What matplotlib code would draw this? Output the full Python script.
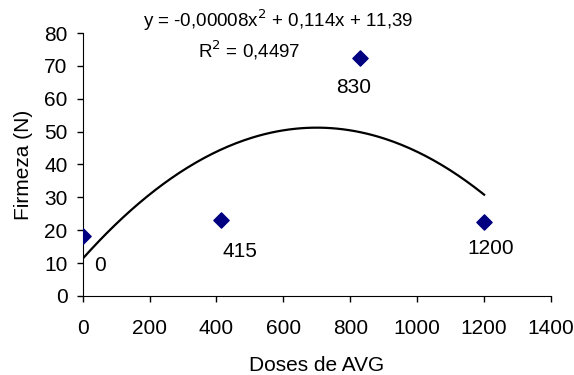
import numpy as np
import matplotlib.pyplot as plt

plt.rcParams['font.family'] = ['Liberation Sans', 'DejaVu Sans']

doses = [0, 415, 830, 1200]
firmeza = [18.3, 23.2, 72.5, 22.5]
point_labels = ['0', '415', '830', '1200']
label_offsets = [(12.5, -21.5), (13.5, -23), (-5, -21.5), (4.5, -19)]

# quadratic trendline fitted on the points (as in the original spreadsheet)
coef = np.polyfit(doses, firmeza, 2)
x_fit = np.linspace(0, 1200, 200)
y_fit = np.polyval(coef, x_fit)

fig = plt.figure(figsize=(5.74, 3.75), dpi=100)
ax = fig.add_axes([0.144, 0.211, 0.816, 0.701])

ax.plot(x_fit, y_fit, color='black', linewidth=1.6, zorder=2)
ax.scatter(doses, firmeza, marker='D', s=60, color='#000080', zorder=3)

fs = 15
for x, y, lab, off in zip(doses, firmeza, point_labels, label_offsets):
    ax.annotate(lab, (x, y), xytext=off, textcoords='offset points',
                ha='center', va='center', fontsize=fs)

ax.set_xlim(0, 1400)
ax.set_ylim(0, 80)
ax.set_xticks(range(0, 1401, 200))
ax.set_yticks(range(0, 81, 10))
ax.tick_params(direction='out', length=4.5, width=1, labelsize=fs)
ax.tick_params(axis='x', pad=12)
ax.tick_params(axis='y', pad=6.5)
ax.spines['top'].set_visible(False)
ax.spines['right'].set_visible(False)
ax.set_xlabel('Doses de AVG', fontsize=fs, labelpad=13)
ax.set_ylabel('Firmeza (N)', fontsize=fs, labelpad=8)

ax.text(583, 84, 'y = -0,00008x$^2$ + 0,114x + 11,39', ha='center', va='center',
        fontsize=13.5, clip_on=False)
ax.text(497, 74.8, 'R$^2$ = 0,4497', ha='center', va='center', fontsize=13.5)

fig.savefig('out.png', dpi=100)
